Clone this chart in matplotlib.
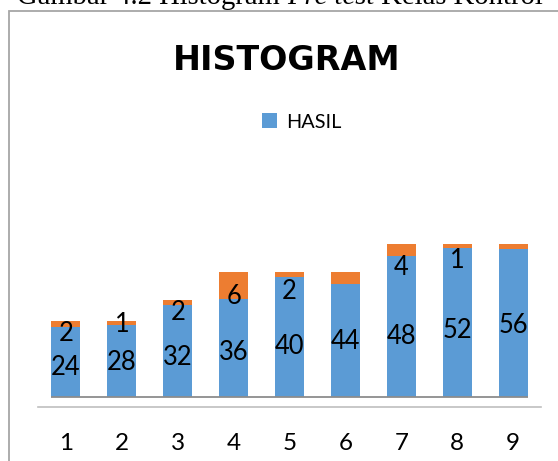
import numpy as np
import matplotlib.pyplot as plt
from matplotlib.patches import Rectangle

# bar heights as drawn (the value labels printed on the chart differ from them)
categories = ['1', '2', '3', '4', '5', '6', '7', '8', '9']
blue_height = [26.4, 27.3, 34.8, 37.0, 45.2, 42.8, 53.3, 56.3, 56.1]
orange_height = [2.4, 1.5, 1.9, 10.3, 2.1, 4.5, 4.5, 1.5, 1.8]
blue_labels = [24, 28, 32, 36, 40, 44, 48, 52, 56]
orange_labels = [2, 1, 2, 6, 2, None, 4, 1, None]

blue = '#5B9BD5'
orange = '#ED7D31'
plt.rcParams['font.family'] = ['Lato', 'DejaVu Sans']

fig = plt.figure(figsize=(5.58, 4.61), dpi=100)
ax = fig.add_axes([0.0681, 0.1178, 0.9014, 0.5568])

x = np.arange(len(categories))
width = 0.52
b1 = ax.bar(x, blue_height, width, color=blue, label='HASIL', zorder=2)
ax.bar(x, orange_height, width, bottom=blue_height, color=orange, label='_nolegend_', zorder=2)
ax.hlines(0, x[0] - width / 2, x[-1] + width / 2, color='#8c8c8c', lw=1.3, zorder=3)

for xi, v, w in zip(x, blue_labels, orange_labels):
    ax.text(xi, v / 2, str(v), ha='center', va='center_baseline', fontsize=18.4, zorder=4)
    if w is not None:
        ax.text(xi, v + w / 2, str(w), ha='center', va='center_baseline', fontsize=18.4, zorder=4)

ax.set_xlim(-0.5, len(categories) - 0.5)
ax.set_ylim(-3.55, 93.3)
ax.set_xticks(x)
ax.set_xticklabels(categories, fontsize=17.5)
ax.tick_params(axis='x', length=0, pad=19)
ax.set_yticks([])
for s in ['top', 'right', 'left']:
    ax.spines[s].set_visible(False)
ax.spines['bottom'].set_color('#bfbfbf')
ax.spines['bottom'].set_linewidth(1.2)

fig.text(286.5 / 558, 1 - 70 / 461, 'HISTOGRAM', ha='center', va='baseline',
         fontsize=24, fontweight='bold', family='DejaVu Sans')
fig.legend(handles=[b1], labels=['HASIL'], loc='center', bbox_to_anchor=(301.5 / 558, 1 - 122 / 461),
           frameon=False, fontsize=14.3, handlelength=0.75, handleheight=0.75, handletextpad=0.45)

# chart border (cropped on the right and bottom)
fig.patches.append(Rectangle((9 / 558, -0.1), 1.2, 1.1 - 11 / 461, transform=fig.transFigure,
                             fill=False, edgecolor='#a6a6a6', lw=1.3))

# caption above the chart, cut off by the crop
serif = 'Liberation Serif'
t1 = fig.text(17 / 558, 1 - 4 / 461, 'Gambar 4.2 Histogram ', family=serif, fontsize=20.6,
              ha='left', va='baseline')
t2 = ax.annotate('Pre test', xy=(1, 0), xycoords=t1, ha='left', va='bottom', family=serif,
                 fontsize=20.6, style='italic', annotation_clip=False)
ax.annotate(' Kelas Kontrol', xy=(1, 0), xycoords=t2, ha='left', va='bottom', family=serif,
            fontsize=20.6, annotation_clip=False)

fig.savefig('out.png', dpi=100)
